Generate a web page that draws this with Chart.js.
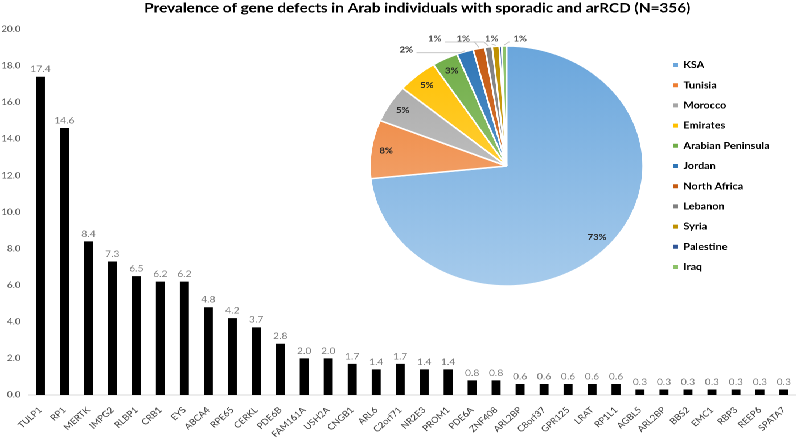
<!DOCTYPE html>
<html lang="en">
<head>
  <meta charset="UTF-8">
  <title>Prevalence of gene defects</title>
  <style>
    body {
      margin: 0;
      background: white;
      overflow: hidden;
    }
    /* the original picture is stretched sideways, so draw at 700px and stretch */
    #wrap {
      position: relative;
      width: 700px;
      height: 439px;
      transform: scaleX(1.1386);
      transform-origin: 0 0;
    }
    #barBox {
      position: absolute;
      left: 0;
      top: 0;
      width: 700px;
      height: 439px;
    }
    #pieBox {
      position: absolute;
      left: 308.5px;
      top: 29px;
      width: 377px;
      height: 274px;
    }
  </style>
  <script src="https://cdn.jsdelivr.net/npm/chart.js"></script>
</head>
<body>
  <div id="wrap">
    <div id="barBox"><canvas id="barChart"></canvas></div>
    <div id="pieBox"><canvas id="pieChart"></canvas></div>
  </div>

  <script>
    // gene defects, % of patients
    const genes = ['TULP1', 'RP1', 'MERTK', 'IMPG2', 'RLBP1', 'CRB1', 'EYS', 'ABCA4', 'RPE65', 'CERKL',
      'PDE6B', 'FAM161A', 'USH2A', 'CNGB1', 'ARL6', 'C2orf71', 'NR2E3', 'PROM1', 'PDE6A', 'ZNF408',
      'ARL2BP', 'C8orf37', 'GPR125', 'LRAT', 'RP1L1', 'AGBL5', 'ARL2BP', 'BBS2', 'EMC1', 'RBP3',
      'REEP6', 'SPATA7'];
    const genePercent = [17.4, 14.6, 8.4, 7.3, 6.5, 6.2, 6.2, 4.8, 4.2, 3.7,
      2.8, 2.0, 2.0, 1.7, 1.4, 1.7, 1.4, 1.4, 0.8, 0.8,
      0.6, 0.6, 0.6, 0.6, 0.6, 0.3, 0.3, 0.3, 0.3, 0.3,
      0.3, 0.3];

    // origin of the 356 individuals
    const countries = ['KSA', 'Tunisia', 'Morocco', 'Emirates', 'Arabian Peninsula', 'Jordan',
      'North Africa', 'Lebanon', 'Syria', 'Palestine', 'Iraq'];
    const patients = [261, 28, 18, 17, 11, 7, 5, 3, 3, 1, 2];

    const sliceColors = ['#6aa6dc', '#ed7d31', '#a5a5a5', '#ffc000', '#70ad47', '#2e75b6',
      '#c55a11', '#7f7f7f', '#bf9000', '#2f5597', '#8cc168'];
    const sliceLight = ['#a6cbec', '#f6b98e', '#d6d6d6', '#ffdc66', '#a9d18e', '#7aaedc',
      '#e8925a', '#b0b0b0', '#e0b83a', '#6d8ccc', '#b5dd98'];

    const FONT = 'Lato';

    // numbers above the bars
    const barValues = {
      id: 'barValues',
      afterDatasetsDraw(chart) {
        const ctx = chart.ctx;
        const meta = chart.getDatasetMeta(0);
        ctx.save();
        ctx.font = '9px ' + FONT;
        ctx.fillStyle = '#7f7f7f';
        ctx.textAlign = 'center';
        ctx.textBaseline = 'bottom';
        meta.data.forEach((bar, i) => {
          ctx.fillText(genePercent[i].toFixed(1), bar.x, bar.y - 3);
        });
        ctx.restore();
      }
    };

    // title sits a little right of the canvas centre in the original
    const titleShift = {
      id: 'titleShift',
      afterLayout(chart) {
        if (chart.titleBlock) chart.titleBlock.left += 34;
      }
    };

    new Chart(document.getElementById('barChart'), {
      type: 'bar',
      data: {
        labels: genes,
        datasets: [{
          data: genePercent,
          backgroundColor: '#000000',
          barPercentage: 0.375,
          categoryPercentage: 1
        }]
      },
      options: {
        responsive: true,
        maintainAspectRatio: false,
        animation: false,
        events: [],
        devicePixelRatio: 2,
        layout: { padding: { right: 1 } },
        plugins: {
          legend: { display: false },
          tooltip: { enabled: false },
          title: {
            display: true,
            text: 'Prevalence of gene defects in Arab individuals with sporadic and arRCD (N=356)',
            color: '#000000',
            font: { family: FONT, size: 13.5, weight: 'bold' },
            padding: { top: 0, bottom: 13 }
          }
        },
        scales: {
          x: {
            grid: { display: false },
            border: { color: '#d9d9d9' },
            ticks: {
              color: '#404040',
              font: { family: FONT, size: 8.5 },
              autoSkip: false,
              minRotation: 45,
              maxRotation: 45,
              padding: 2
            },
            afterFit(scale) { scale.height = 44; }
          },
          y: {
            min: 0,
            max: 20,
            grid: { display: false, drawTicks: false },
            border: { display: false },
            ticks: {
              stepSize: 2,
              color: '#595959',
              font: { family: FONT, size: 8.5 },
              padding: 7,
              callback: (v) => v.toFixed(1)
            },
            afterFit(scale) { scale.width = 25; }
          }
        }
      },
      plugins: [barValues, titleShift]
    });

    // percent labels: big slices inside, small ones in a row above the pie
    const pieLabels = {
      id: 'pieLabels',
      afterDatasetsDraw(chart) {
        const ctx = chart.ctx;
        const meta = chart.getDatasetMeta(0);
        const total = patients.reduce((s, v) => s + v, 0);
        const outside = [];
        ctx.save();
        ctx.font = 'bold 8.5px ' + FONT;
        ctx.textAlign = 'center';
        ctx.textBaseline = 'middle';
        meta.data.forEach((arc, i) => {
          const pct = Math.round(patients[i] / total * 100);
          if (pct === 0) return;
          const mid = (arc.startAngle + arc.endAngle) / 2;
          if (pct >= 3) {
            const r = arc.outerRadius * 0.89;
            ctx.fillStyle = '#262626';
            ctx.fillText(pct + '%', arc.x + Math.cos(mid) * r, arc.y + Math.sin(mid) * r);
          } else {
            outside.push({
              pct: pct,
              ax: arc.x + Math.cos(mid) * arc.outerRadius,
              ay: arc.y + Math.sin(mid) * arc.outerRadius,
              top: arc.y - arc.outerRadius
            });
          }
        });
        let x = null;
        for (let k = outside.length - 1; k >= 0; k--) {
          const o = outside[k];
          x = x === null ? o.ax + 14 : x - 25;
          // the first label sits lower, next to its own slice
          const y = k === 0 ? o.ay - 2 : o.top - 7;
          ctx.strokeStyle = '#bfbfbf';
          ctx.lineWidth = 0.8;
          ctx.beginPath();
          if (x + 9 < o.ax - 4) {
            ctx.moveTo(x + 9, y + 3);
            ctx.lineTo(o.ax - 4, y + 3);
          } else if (x - 9 > o.ax + 4) {
            ctx.moveTo(x - 9, y + 3);
            ctx.lineTo(o.ax + 4, y + 3);
          } else {
            ctx.moveTo(x, y + 5);
          }
          ctx.lineTo(o.ax, o.ay - 1);
          ctx.stroke();
          ctx.fillStyle = o.pct > 1 ? '#262626' : '#595959';
          ctx.fillText(o.pct + '%', x, y);
        }
        ctx.restore();
      }
    };

    new Chart(document.getElementById('pieChart'), {
      type: 'pie',
      data: {
        labels: countries,
        datasets: [{
          data: patients,
          radius: 120,
          borderColor: '#ffffff',
          borderWidth: 1.5,
          backgroundColor: (c) => {
            const area = c.chart.chartArea;
            if (!area) return sliceColors[c.dataIndex];
            const cy = (area.top + area.bottom) / 2;
            const g = c.chart.ctx.createLinearGradient(0, cy - 120, 0, cy + 120);
            g.addColorStop(0, sliceColors[c.dataIndex]);
            g.addColorStop(1, sliceLight[c.dataIndex]);
            return g;
          }
        }]
      },
      options: {
        responsive: true,
        maintainAspectRatio: false,
        animation: false,
        events: [],
        devicePixelRatio: 2,
        plugins: {
          tooltip: { enabled: false },
          legend: {
            position: 'right',
            labels: {
              color: '#000000',
              font: { family: FONT, size: 9.5, weight: 'bold' },
              boxWidth: 4,
              boxHeight: 4,
              padding: 10.7,
              generateLabels(chart) {
                return Chart.overrides.pie.plugins.legend.labels.generateLabels(chart).map((item, i) => {
                  item.fillStyle = sliceColors[i];
                  item.strokeStyle = sliceColors[i];
                  item.lineWidth = 0;
                  return item;
                });
              }
            }
          }
        }
      },
      plugins: [pieLabels]
    });
  </script>
</body>
</html>
